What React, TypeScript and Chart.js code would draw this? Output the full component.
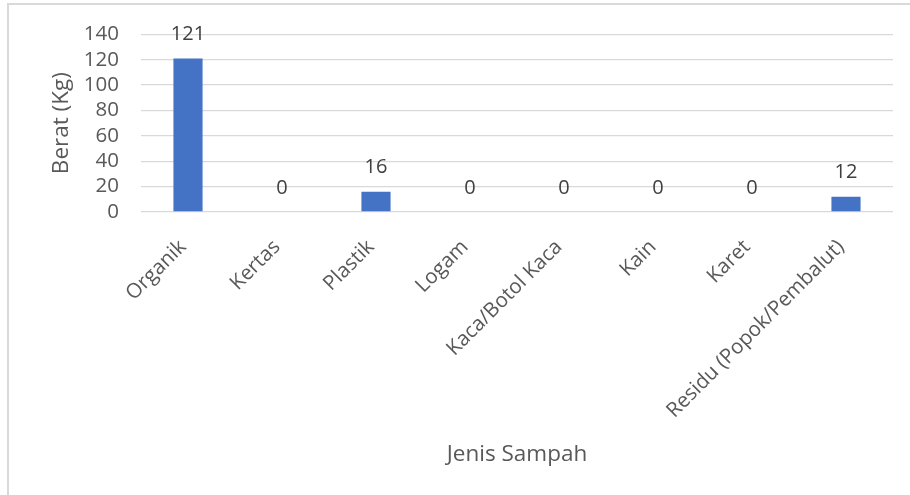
import React, { useEffect, useRef } from "react";
import { Chart, registerables } from "chart.js";

Chart.register(...registerables);

const categories = [
  "Organik",
  "Kertas",
  "Plastik",
  "Logam",
  "Kaca/Botol Kaca",
  "Kain",
  "Karet",
  "Residu (Popok/Pembalut)",
];
const beratKg = [121, 0, 16, 0, 0, 0, 0, 12];
const yTicks = [0, 20, 40, 60, 80, 100, 120, 140];

const FONT = "'Open Sans', 'DejaVu Sans', sans-serif";

const dataLabelPlugin = {
  id: "dataLabels",
  afterDatasetsDraw(chart: any) {
    const ctx = chart.ctx;
    const meta = chart.getDatasetMeta(0);
    const ds = chart.data.datasets[0];
    ctx.save();
    ctx.font = `20px ${FONT}`;
    ctx.fillStyle = "#404040";
    ctx.textAlign = "center";
    ctx.textBaseline = "middle";
    meta.data.forEach((bar: any, i: number) => {
      ctx.fillText(String(ds.data[i]), bar.x, bar.y - 24);
    });
    ctx.restore();
  },
};

export default function App() {
  const ref = useRef<HTMLCanvasElement | null>(null);
  useEffect(() => {
    if (!ref.current) return;
    const chart = new Chart(ref.current, {
      type: "bar",
      data: {
        labels: categories,
        datasets: [
          {
            data: beratKg,
            backgroundColor: "#4472C4",
            borderWidth: 0,
            categoryPercentage: 1,
            barPercentage: 0.31,
          },
        ],
      },
      options: {
        animation: false,
        responsive: false,
        maintainAspectRatio: false,
        layout: { padding: { left: 44, right: 17, top: 32, bottom: 23 } },
        plugins: {
          legend: { display: false },
          tooltip: { enabled: false },
        },
        scales: {
          x: {
            grid: { display: false },
            border: { display: false },
            ticks: {
              color: "#595959",
              font: { family: FONT, size: 20.5 },
              maxRotation: 45,
              minRotation: 45,
              autoSkip: false,
              padding: 15,
              labelOffset: -5,
            },
            title: {
              display: true,
              text: "Jenis Sampah",
              color: "#595959",
              font: { family: FONT, size: 22.5 },
              padding: { top: 4, bottom: 4 },
            },
            afterFit(scale: any) {
              scale.height = 260;
            },
          },
          y: {
            min: 0,
            max: 140,
            afterBuildTicks(scale: any) {
              scale.ticks = yTicks.map((v) => ({ value: v }));
            },
            grid: { color: "#d9d9d9", lineWidth: 1.3, drawTicks: false },
            border: { display: false },
            ticks: {
              color: "#595959",
              font: { family: FONT, size: 20.5 },
              padding: 22,
              autoSkip: false,
            },
            title: {
              display: true,
              text: "Berat (Kg)",
              color: "#595959",
              font: { family: FONT, size: 22.5 },
              padding: { top: 4, bottom: 4 },
            },
            afterFit(scale: any) {
              scale.width = 97;
            },
          },
        },
      },
      plugins: [dataLabelPlugin],
    } as any);
    return () => chart.destroy();
  }, []);

  return (
    <div
      style={{
        position: "fixed",
        left: 0,
        top: 0,
        width: 910,
        height: 495,
        background: "#ffffff",
        overflow: "hidden",
      }}
    >
      <div
        style={{
          position: "absolute",
          left: 7,
          top: 3,
          width: 920,
          height: 520,
          borderTop: "2px solid #d9d9d9",
          borderLeft: "2px solid #d9d9d9",
          boxSizing: "border-box",
        }}
      />
      <canvas
        ref={ref}
        width={910}
        height={495}
        style={{ position: "absolute", left: 0, top: 0, width: 910, height: 495 }}
      />
    </div>
  );
}
